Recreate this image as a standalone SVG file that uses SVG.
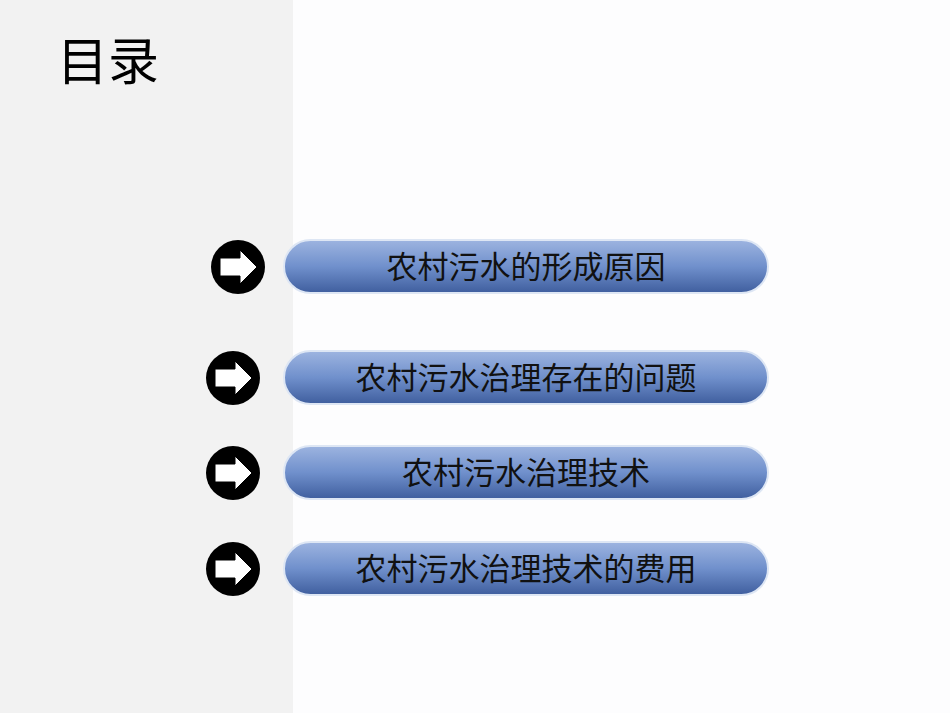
<svg xmlns="http://www.w3.org/2000/svg" width="950" height="713" viewBox="0 0 950 713">
<defs>
<linearGradient id="g" x1="0" y1="0" x2="0" y2="1">
<stop offset="0" stop-color="#9db4e0"/><stop offset="0.5" stop-color="#7090cc"/><stop offset="1" stop-color="#3f5e9e"/>
</linearGradient>
<path id="arr" d="M-18,-9 H2 V-17 L19,0 L2,17 V9 H-18 Z" fill="#fff" stroke="#000" stroke-width="1"/>
<style>
.p{fill:url(#g);stroke:#dde6f4;stroke-width:2}
.t{font-family:"Liberation Sans","Noto Sans CJK SC",sans-serif;font-size:31px;fill:#111;text-anchor:middle}
</style>
</defs>
<rect width="950" height="713" fill="#fdfdfe"/>
<rect width="293" height="713" fill="#f2f2f2"/>
<text x="57" y="80" font-family="Liberation Sans,Noto Sans CJK SC,sans-serif" font-size="51" fill="#000">目录</text>
<g id="n1"><circle cx="238" cy="267" r="27"/><use href="#arr" x="238" y="267"/><rect class="p" x="284" y="240" width="484" height="53" rx="26.5"/><text class="t" x="526" y="278">农村污水的形成原因</text></g>
<g id="n2"><circle cx="233" cy="378" r="27"/><use href="#arr" x="233" y="378"/><rect class="p" x="284" y="351" width="484" height="53" rx="26.5"/><text class="t" x="526" y="389">农村污水治理存在的问题</text></g>
<g id="n3"><circle cx="233" cy="473" r="27"/><use href="#arr" x="233" y="473"/><rect class="p" x="284" y="446" width="484" height="53" rx="26.5"/><text class="t" x="526" y="484">农村污水治理技术</text></g>
<g id="n4"><circle cx="233" cy="569" r="27"/><use href="#arr" x="233" y="569"/><rect class="p" x="284" y="542" width="484" height="53" rx="26.5"/><text class="t" x="526" y="580">农村污水治理技术的费用</text></g>
<g id="connectors"/>
</svg>
